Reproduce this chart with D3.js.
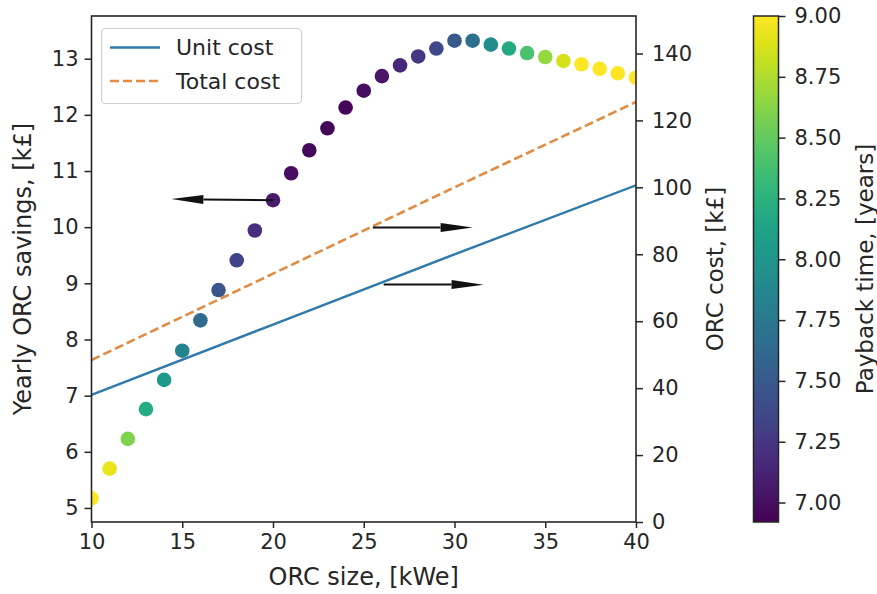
<!DOCTYPE html>
<html>
<head>
<meta charset="utf-8">
<script src="https://cdn.jsdelivr.net/npm/d3@7"></script>
<style>
  body{margin:0;background:#fff;}
  svg text{font-family:"DejaVu Sans",sans-serif;fill:#262626;}
</style>
</head>
<body>
<svg id="svg" width="877" height="594"></svg>
<script>
// ORC size vs yearly savings, coloured by payback time
const sizes=[10,11,12,13,14,15,16,17,18,19,20,21,22,23,24,25,26,27,28,29,30,31,32,33,34,35,36,37,38,39,40];
const savings=[5.17,5.70,6.23,6.76,7.28,7.80,8.34,8.88,9.41,9.94,10.48,10.96,11.37,11.76,12.13,12.43,12.69,12.88,13.04,13.18,13.32,13.32,13.25,13.18,13.10,13.03,12.96,12.90,12.82,12.74,12.66];
const payback=[9.0,8.93,8.6,8.2,8.04,7.85,7.65,7.47,7.33,7.2,7.07,7.0,6.97,6.95,6.95,6.99,7.05,7.15,7.26,7.37,7.49,7.68,7.94,8.18,8.4,8.66,8.87,9.0,9.0,9.0,9.0];

// cost lines (right axis)
const costSizes=[10,20,30,40];
const unitCost=[38,59,80,100.6];
const totalCost=[48.4,74.2,100,125.5];

const xTicks=[10,15,20,25,30,35,40];
const leftTicks=[5,6,7,8,9,10,11,12,13];
const rightTicks=[0,20,40,60,80,100,120,140];
const cbTicks=[7.00,7.25,7.50,7.75,8.00,8.25,8.50,8.75,9.00];

// annotation arrows [fromX, fromY, toX, toY, axis]
const arrows=[[20,10.48,14.4,10.5,"left"],[25.5,88,31,88,"right"],[26.1,71,31.6,70.9,"right"]];

const mLeft=91.5,mRight=636,mTop=16,mBottom=522;
const svg=d3.select("#svg");

var x=d3.scaleLinear().domain([10,40]).range([mLeft,mRight]);
var yL=d3.scaleLinear().domain([4.75,13.76]).range([mBottom,mTop]);
var yR=d3.scaleLinear().domain([0,151.2]).range([mBottom,mTop]);
var color=d3.scaleSequential(d3.interpolateViridis).domain([6.92,9.0]).clamp(true);

var defs=svg.append("defs");
defs.append("clipPath").attr("id","plotclip")
    .append("rect").attr("x",mLeft).attr("y",mTop).attr("width",mRight-mLeft).attr("height",mBottom-mTop);

var plot=svg.append("g").attr("clip-path","url(#plotclip)");

//cost lines
var lineR=d3.line().x((d,i)=>x(costSizes[i])).y(d=>yR(d));
plot.append("path").datum(unitCost)
    .attr("d",lineR).attr("fill","none").attr("stroke","#2f7aab").attr("stroke-width",2.4);
plot.append("path").datum(totalCost)
    .attr("d",lineR).attr("fill","none").attr("stroke","#df8c44").attr("stroke-width",2.6)
    .attr("stroke-dasharray","9,4");

//scatter
plot.selectAll("circle").data(sizes).enter().append("circle")
    .attr("cx",d=>x(d))
    .attr("cy",(d,i)=>yL(savings[i]))
    .attr("r",7.3)
    .attr("fill",(d,i)=>color(payback[i]));

//arrows
arrows.forEach(a=>{
    var ys=a[4]=="left"?yL:yR;
    var x1=x(a[0]),y1=ys(a[1]),x2=x(a[2]),y2=ys(a[3]);
    var ang=Math.atan2(y2-y1,x2-x1),hl=32,hw=4.5;
    var bx=x2-hl*Math.cos(ang),by=y2-hl*Math.sin(ang);
    svg.append("line").attr("x1",x1).attr("y1",y1).attr("x2",bx).attr("y2",by)
        .attr("stroke","#111").attr("stroke-width",2);
    svg.append("path")
        .attr("d","M"+x2+","+y2+"L"+(bx-hw*Math.sin(ang))+","+(by+hw*Math.cos(ang))+"L"+(bx+hw*Math.sin(ang))+","+(by-hw*Math.cos(ang))+"Z")
        .attr("fill","#111");
});

//frame
svg.append("rect").attr("x",mLeft).attr("y",mTop).attr("width",mRight-mLeft).attr("height",mBottom-mTop)
    .attr("fill","none").attr("stroke","#262626").attr("stroke-width",1.6);

//axes
function styleAxis(g){
    g.select(".domain").remove();
    g.selectAll(".tick line").attr("stroke","#262626").attr("stroke-width",1.5);
    g.selectAll(".tick text").style("font-size","21px").style("font-family","DejaVu Sans").attr("fill","#262626");
}
svg.append("g").attr("transform","translate(0,"+mBottom+")")
    .call(d3.axisBottom(x).tickValues(xTicks).tickSize(6).tickPadding(6))
    .call(styleAxis);
svg.append("g").attr("transform","translate("+mLeft+",0)")
    .call(d3.axisLeft(yL).tickValues(leftTicks).tickSize(7).tickPadding(6))
    .call(styleAxis);
svg.append("g").attr("transform","translate("+mRight+",0)")
    .call(d3.axisRight(yR).tickValues(rightTicks).tickSize(7).tickPadding(9))
    .call(styleAxis);

//axis labels
svg.append("text").attr("x",(mLeft+mRight)/2).attr("y",585).attr("text-anchor","middle")
    .style("font-size","24px").text("ORC size, [kWe]");
svg.append("text").attr("transform","translate(31,"+((mTop+mBottom)/2)+") rotate(-90)")
    .attr("text-anchor","middle").style("font-size","24px").text("Yearly ORC savings, [k£]");
svg.append("text").attr("transform","translate(723,"+((mTop+mBottom)/2)+") rotate(-90)")
    .attr("text-anchor","middle").style("font-size","23px").text("ORC cost, [k£]");

//legend
var lg=svg.append("g");
lg.append("rect").attr("x",101.5).attr("y",28.5).attr("width",200).attr("height",75).attr("rx",4)
    .attr("fill","white").attr("fill-opacity",0.8).attr("stroke","#d0d0d0").attr("stroke-width",1.2);
var legendItems=[["Unit cost","#2f7aab",null],["Total cost","#df8c44","9,4"]];
legendItems.forEach((d,i)=>{
    var ly=47.5+i*33.5;
    lg.append("line").attr("x1",110).attr("x2",160).attr("y1",ly).attr("y2",ly)
        .attr("stroke",d[1]).attr("stroke-width",2.6).attr("stroke-dasharray",d[2]);
    lg.append("text").attr("x",176).attr("y",ly).attr("dy","0.36em").style("font-size","22px").text(d[0]);
});

//colorbar
const cbX=753.5,cbW=25;
var cbScale=d3.scaleLinear().domain([6.92,9.0]).range([mBottom,mTop]);
var grad=defs.append("linearGradient").attr("id","cbgrad")
    .attr("x1","0").attr("y1","1").attr("x2","0").attr("y2","0");
d3.range(0,1.0001,0.05).forEach(t=>{
    grad.append("stop").attr("offset",t).attr("stop-color",d3.interpolateViridis(t));
});
svg.append("rect").attr("x",cbX).attr("y",mTop).attr("width",cbW).attr("height",mBottom-mTop)
    .attr("fill","url(#cbgrad)").attr("stroke","#262626").attr("stroke-width",1.5);
svg.append("g").attr("transform","translate("+(cbX+cbW)+",0)")
    .call(d3.axisRight(cbScale).tickValues(cbTicks).tickFormat(d3.format(".2f")).tickSize(7).tickPadding(9))
    .call(styleAxis);
svg.append("text").attr("transform","translate(873,"+((mTop+mBottom)/2)+") rotate(-90)")
    .attr("text-anchor","middle").style("font-size","23px").text("Payback time, [years]");
</script>
</body>
</html>
